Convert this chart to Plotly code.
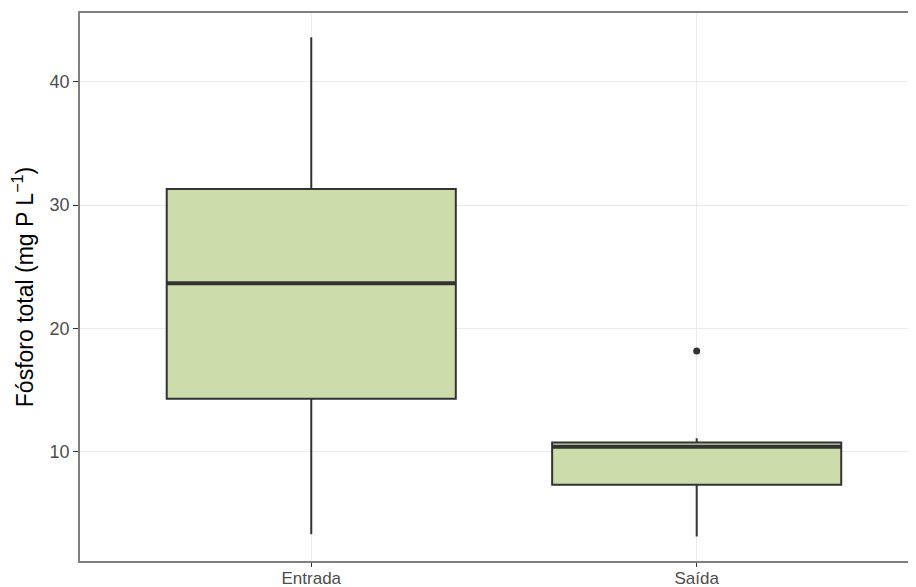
import plotly.graph_objects as go

categories = ["Entrada", "Saída"]
positions = [1, 2]
lower_whisker = [3.3, 3.13]
q1_vals = [14.3, 7.33]
median_vals = [23.65, 10.4]
q3_vals = [31.3, 10.75]
upper_whisker = [43.6, 11.1]
outlier_cat = [2]
outlier_vals = [18.17]
y_ticks = [10, 20, 30, 40]

fill = "#CCDCAA"
edge = "#333333"
box_w = 0.75

fig = go.Figure()
for i in range(len(categories)):
    fig.add_trace(go.Box(
        x=[positions[i]], q1=[q1_vals[i]], median=[median_vals[i]], q3=[q3_vals[i]],
        lowerfence=[lower_whisker[i]], upperfence=[upper_whisker[i]],
        width=box_w, fillcolor=fill, line=dict(color=edge, width=2),
        whiskerwidth=0, boxpoints=False, showlegend=False, hoverinfo="skip",
    ))
    # thicker median line (ggplot style)
    fig.add_trace(go.Scatter(
        x=[positions[i] - box_w / 2, positions[i] + box_w / 2],
        y=[median_vals[i], median_vals[i]],
        mode="lines", line=dict(color=edge, width=4), showlegend=False, hoverinfo="skip",
    ))

fig.add_trace(go.Scatter(
    x=outlier_cat, y=outlier_vals, mode="markers",
    marker=dict(color=edge, size=7), showlegend=False,
))

fig.update_layout(
    width=908, height=579,
    margin=dict(l=72, r=0, t=5, b=26, autoexpand=False),
    paper_bgcolor="white", plot_bgcolor="white",
    font=dict(family="Liberation Sans, Arial, sans-serif"),
    xaxis=dict(
        range=[0.4, 2.569], tickvals=positions, ticktext=categories,
        showgrid=True, gridcolor="#EBEBEB", gridwidth=1, zeroline=False,
        showline=True, linecolor="#7F7F7F", linewidth=1.5, mirror=True,
        ticks="outside", ticklen=4, tickcolor="#333333", automargin=False,
        ticklabelstandoff=-3,
        tickfont=dict(size=17, color="#4D4D4D"),
    ),
    yaxis=dict(
        range=[1.14, 45.57], tickvals=y_ticks,
        showgrid=True, gridcolor="#EBEBEB", gridwidth=1, zeroline=False,
        showline=True, linecolor="#7F7F7F", linewidth=1.5, mirror=False,
        ticks="outside", ticklen=5, tickcolor="#333333", automargin=False,
        tickfont=dict(size=18, color="#4D4D4D"),
        title=dict(text="Fósforo total (mg P L<sup>−1</sup>)", font=dict(size=23, color="black"), standoff=12),
    ),
)

fig.write_html("out.html")
